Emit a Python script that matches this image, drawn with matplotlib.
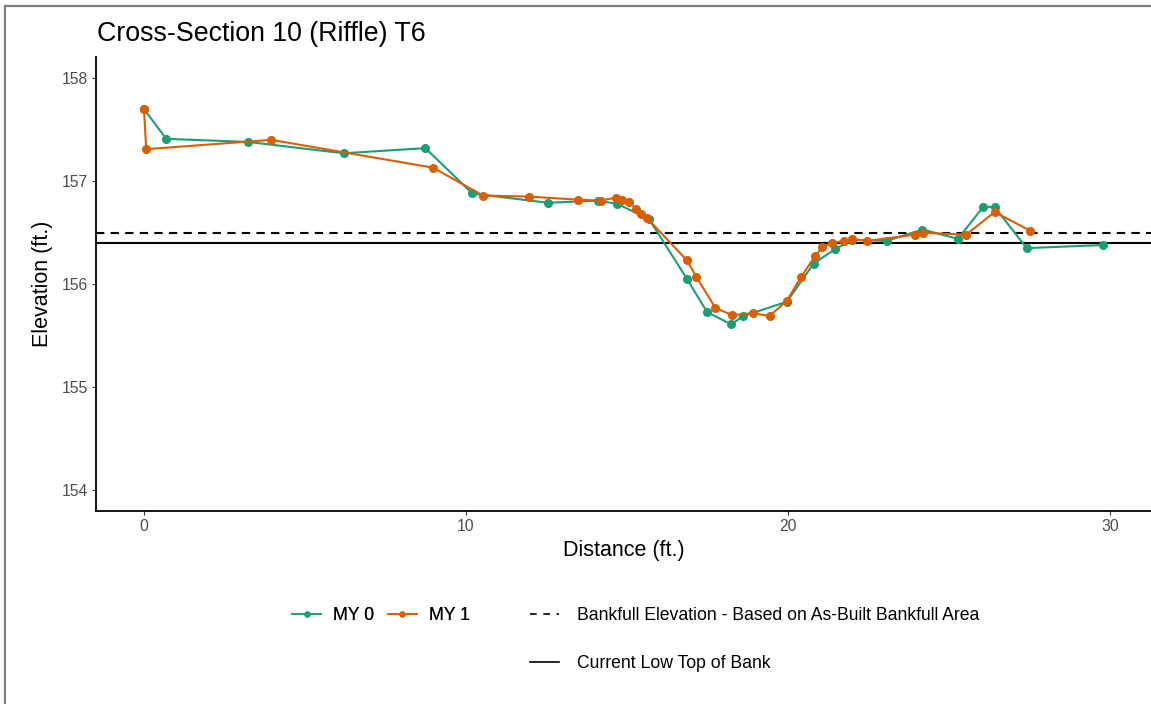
import matplotlib
matplotlib.use("Agg")
import matplotlib.pyplot as plt
from matplotlib.lines import Line2D

plt.rcParams["font.family"] = ["Liberation Sans", "DejaVu Sans"]

# survey data
my0_dist = [0.0, 0.69, 3.23, 6.2, 8.74, 10.2, 12.54, 14.09, 14.7, 15.69, 16.87,
            17.49, 18.24, 18.61, 19.97, 20.8, 21.47, 22.0, 23.07, 24.18, 25.28,
            26.07, 26.42, 27.42, 29.79]
my0_elev = [157.70, 157.41, 157.38, 157.27, 157.32, 156.88, 156.79, 156.81, 156.78,
            156.63, 156.05, 155.73, 155.61, 155.69, 155.83, 156.20, 156.34, 156.43,
            156.42, 156.53, 156.44, 156.75, 156.75, 156.35, 156.38]

my1_dist = [0.0, 0.07, 3.96, 8.98, 10.53, 11.95, 13.47, 14.19, 14.65, 14.86, 15.07,
            15.27, 15.43, 15.63, 16.87, 17.16, 17.75, 18.27, 18.92, 19.43, 19.97,
            20.41, 20.84, 21.07, 21.36, 21.75, 21.98, 22.47, 23.94, 24.2, 25.54,
            26.42, 27.52]
my1_elev = [157.70, 157.31, 157.40, 157.13, 156.86, 156.85, 156.82, 156.81, 156.84,
            156.82, 156.80, 156.73, 156.68, 156.64, 156.23, 156.07, 155.77, 155.70,
            155.72, 155.69, 155.84, 156.07, 156.27, 156.36, 156.40, 156.42, 156.44,
            156.42, 156.48, 156.50, 156.48, 156.70, 156.52]

bankfull_elev = 156.50
low_top_bank = 156.40

x_ticks = [0, 10, 20, 30]
y_ticks = [154, 155, 156, 157, 158]

GREEN = "#1B9E77"
ORANGE = "#D95F02"

fig = plt.figure(figsize=(11.51, 7.04), dpi=100)
ax = fig.add_axes([96 / 1151, 1 - 511 / 704, 1 - 96 / 1151, (511 - 57.4) / 704])

ax.axhline(bankfull_elev, color="black", lw=1.5, ls=(0, (4, 3)), zorder=1)
ax.axhline(low_top_bank, color="black", lw=1.5, zorder=1)

ax.plot(my0_dist, my0_elev, color=GREEN, lw=1.5, marker="o", ms=5.5, zorder=2)
ax.plot(my1_dist, my1_elev, color=ORANGE, lw=1.5, marker="o", ms=5.5, zorder=3)

ax.set_xlim(-1.49, 31.28)
ax.set_ylim(153.8, 158.2)
ax.set_xticks(x_ticks)
ax.set_yticks(y_ticks)

for side in ("top", "right"):
    ax.spines[side].set_visible(False)
for side in ("left", "bottom"):
    ax.spines[side].set_linewidth(1.3)
    ax.spines[side].set_color("black")
ax.tick_params(length=3, width=0.8, color="#333333", labelcolor="#4D4D4D",
               labelsize=11.3, pad=3)

ax.set_xlabel("Distance (ft.)", fontsize=15.5, labelpad=4)
ax.set_ylabel("Elevation (ft.)", fontsize=15.5, labelpad=6)
fig.text(97 / 1151, 1 - 34 / 704, "Cross-Section 10 (Riffle) T6", fontsize=19.3,
         va="center", ha="left")

# legends below the panel
pts = [Line2D([], [], color=GREEN, lw=1.2, marker="o", ms=3.5),
       Line2D([], [], color=ORANGE, lw=1.2, marker="o", ms=3.5)]
leg1 = fig.legend(pts, ["MY 0", "MY 1"], ncol=2, loc="center left",
                  bbox_to_anchor=(292 / 1151, 1 - 616 / 704), frameon=False,
                  fontsize=12.7, handlelength=1.65, handletextpad=0.7,
                  columnspacing=0.75, borderaxespad=0, borderpad=0)
refs = [Line2D([], [], color="black", lw=1.2, ls=(0, (4, 4))),
        Line2D([], [], color="black", lw=1.2)]
leg2 = fig.legend(refs, ["Bankfull Elevation - Based on As-Built Bankfull Area",
                         "Current Low Top of Bank"], ncol=1, loc="upper left",
                  bbox_to_anchor=(530 / 1151, 1 - 607 / 704), frameon=False,
                  fontsize=12.7, handlelength=1.65, handletextpad=1.0,
                  labelspacing=1.75, borderaxespad=0, borderpad=0)
fig.add_artist(leg1)

# gray frame on the top and left edge
fig.add_artist(Line2D([5 / 1151, 5 / 1151], [0, 1 - 5.5 / 704], color="#808080",
                      lw=1.6, transform=fig.transFigure))
fig.add_artist(Line2D([5 / 1151, 1], [1 - 5.5 / 704, 1 - 5.5 / 704], color="#808080",
                      lw=1.6, transform=fig.transFigure))

fig.savefig("out.png", dpi=100)
